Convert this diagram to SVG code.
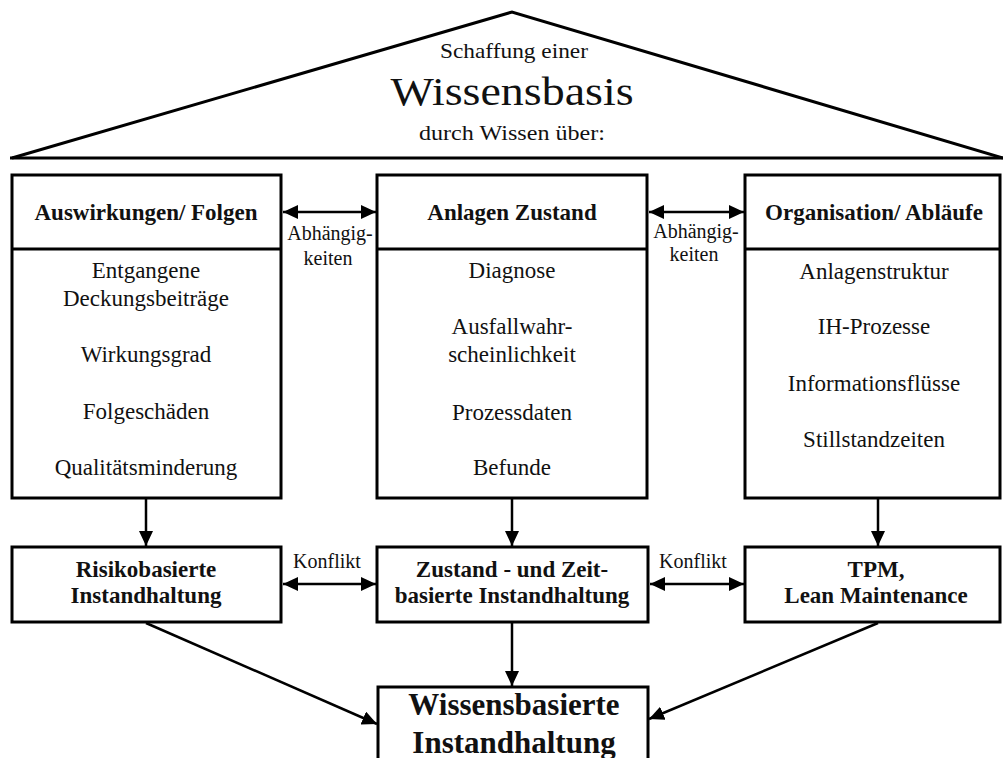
<svg xmlns="http://www.w3.org/2000/svg" width="1003" height="758" viewBox="0 0 1003 758">
  <style>
    .box { fill: #fff; stroke: #000; stroke-width: 3; }
    .line { fill: none; stroke: #000; stroke-width: 3; }
    .conn { fill: none; stroke: #000; stroke-width: 2.5; }
    text { font-family: "Liberation Serif", "Times New Roman", serif; fill: #111; text-anchor: middle; }
    .hd { font-size: 23px; font-weight: bold; }
    .it { font-size: 23px; }
    .lbl { font-size: 20px; }
    .big { font-size: 31px; font-weight: bold; }
  </style>
  <defs>
    <marker id="arr" viewBox="0 0 15 14" refX="15" refY="7" markerWidth="15" markerHeight="14" markerUnits="userSpaceOnUse" orient="auto-start-reverse">
      <path d="M0,0 L15,7 L0,14 Z" fill="#000"/>
    </marker>
  </defs>
  <rect width="1003" height="758" fill="#fff"/>

  <!-- roof -->
  <g id="roof">
    <polyline class="line" points="12,158 512,12 1003,158"/>
    <line class="line" x1="10" y1="158" x2="1003" y2="158"/>
    <text x="514" y="58" font-size="21" textLength="148" lengthAdjust="spacingAndGlyphs">Schaffung einer</text>
    <text x="512" y="105" font-size="40" textLength="243" lengthAdjust="spacingAndGlyphs">Wissensbasis</text>
    <text x="512" y="140" font-size="21" textLength="186" lengthAdjust="spacingAndGlyphs">durch Wissen über:</text>
  </g>

  <!-- upper knowledge columns -->
  <g id="auswirkungen">
    <rect class="box" x="12" y="175" width="269" height="323"/>
    <line class="line" x1="12" y1="249" x2="281" y2="249"/>
    <text class="hd" x="146" y="220">Auswirkungen/ Folgen</text>
    <text class="it" x="146" y="278">Entgangene</text>
    <text class="it" x="146" y="306">Deckungsbeiträge</text>
    <text class="it" x="146" y="362">Wirkungsgrad</text>
    <text class="it" x="146" y="419">Folgeschäden</text>
    <text class="it" x="146" y="475">Qualitätsminderung</text>
  </g>
  <g id="zustand">
    <rect class="box" x="377" y="175" width="270" height="323"/>
    <line class="line" x1="377" y1="249" x2="647" y2="249"/>
    <text class="hd" x="512" y="220">Anlagen Zustand</text>
    <text class="it" x="512" y="278">Diagnose</text>
    <text class="it" x="512" y="334">Ausfallwahr-</text>
    <text class="it" x="512" y="362">scheinlichkeit</text>
    <text class="it" x="512" y="420">Prozessdaten</text>
    <text class="it" x="512" y="475">Befunde</text>
  </g>
  <g id="organisation">
    <rect class="box" x="745" y="175" width="255" height="323"/>
    <line class="line" x1="745" y1="249" x2="1000" y2="249"/>
    <text class="hd" x="874" y="220">Organisation/ Abläufe</text>
    <text class="it" x="874" y="279">Anlagenstruktur</text>
    <text class="it" x="874" y="334">IH-Prozesse</text>
    <text class="it" x="874" y="391">Informationsflüsse</text>
    <text class="it" x="874" y="447">Stillstandzeiten</text>
  </g>

  <!-- maintenance strategies -->
  <g id="risiko">
    <rect class="box" x="12" y="547" width="269" height="75"/>
    <text class="hd" x="146" y="577">Risikobasierte</text>
    <text class="hd" x="146" y="603">Instandhaltung</text>
  </g>
  <g id="zeit">
    <rect class="box" x="377" y="547" width="271" height="75"/>
    <text class="hd" x="512" y="577">Zustand - und Zeit-</text>
    <text class="hd" x="512" y="603">basierte Instandhaltung</text>
  </g>
  <g id="tpm">
    <rect class="box" x="745" y="547" width="255" height="75"/>
    <text class="hd" x="876" y="577">TPM,</text>
    <text class="hd" x="876" y="603">Lean Maintenance</text>
  </g>
  <g id="wissensbasiert">
    <rect class="box" x="378" y="687" width="270" height="80"/>
    <text class="big" x="514" y="715">Wissensbasierte</text>
    <text class="big" x="514" y="753">Instandhaltung</text>
  </g>

  <!-- connectors and their labels -->
  <g id="connectors">
    <line class="conn" x1="283" y1="212" x2="376" y2="212" marker-start="url(#arr)" marker-end="url(#arr)"/>
    <line class="conn" x1="649" y1="212" x2="744" y2="212" marker-start="url(#arr)" marker-end="url(#arr)"/>
    <text class="lbl" x="330" y="240">Abhängig-</text>
    <text class="lbl" x="328" y="265">keiten</text>
    <text class="lbl" x="696" y="238">Abhängig-</text>
    <text class="lbl" x="694" y="261">keiten</text>

    <line class="conn" x1="146" y1="499" x2="146" y2="546" marker-end="url(#arr)"/>
    <line class="conn" x1="512" y1="499" x2="512" y2="546" marker-end="url(#arr)"/>
    <line class="conn" x1="878" y1="499" x2="878" y2="546" marker-end="url(#arr)"/>

    <line class="conn" x1="283" y1="584" x2="376" y2="584" marker-start="url(#arr)" marker-end="url(#arr)"/>
    <line class="conn" x1="650" y1="584" x2="744" y2="584" marker-start="url(#arr)" marker-end="url(#arr)"/>
    <text class="lbl" x="327" y="568">Konflikt</text>
    <text class="lbl" x="693" y="568">Konflikt</text>

    <line class="conn" x1="512" y1="623" x2="512" y2="686" marker-end="url(#arr)"/>
    <line class="conn" x1="146" y1="623" x2="377" y2="724" marker-end="url(#arr)"/>
    <line class="conn" x1="878" y1="623" x2="649" y2="719" marker-end="url(#arr)"/>
  </g>
</svg>
